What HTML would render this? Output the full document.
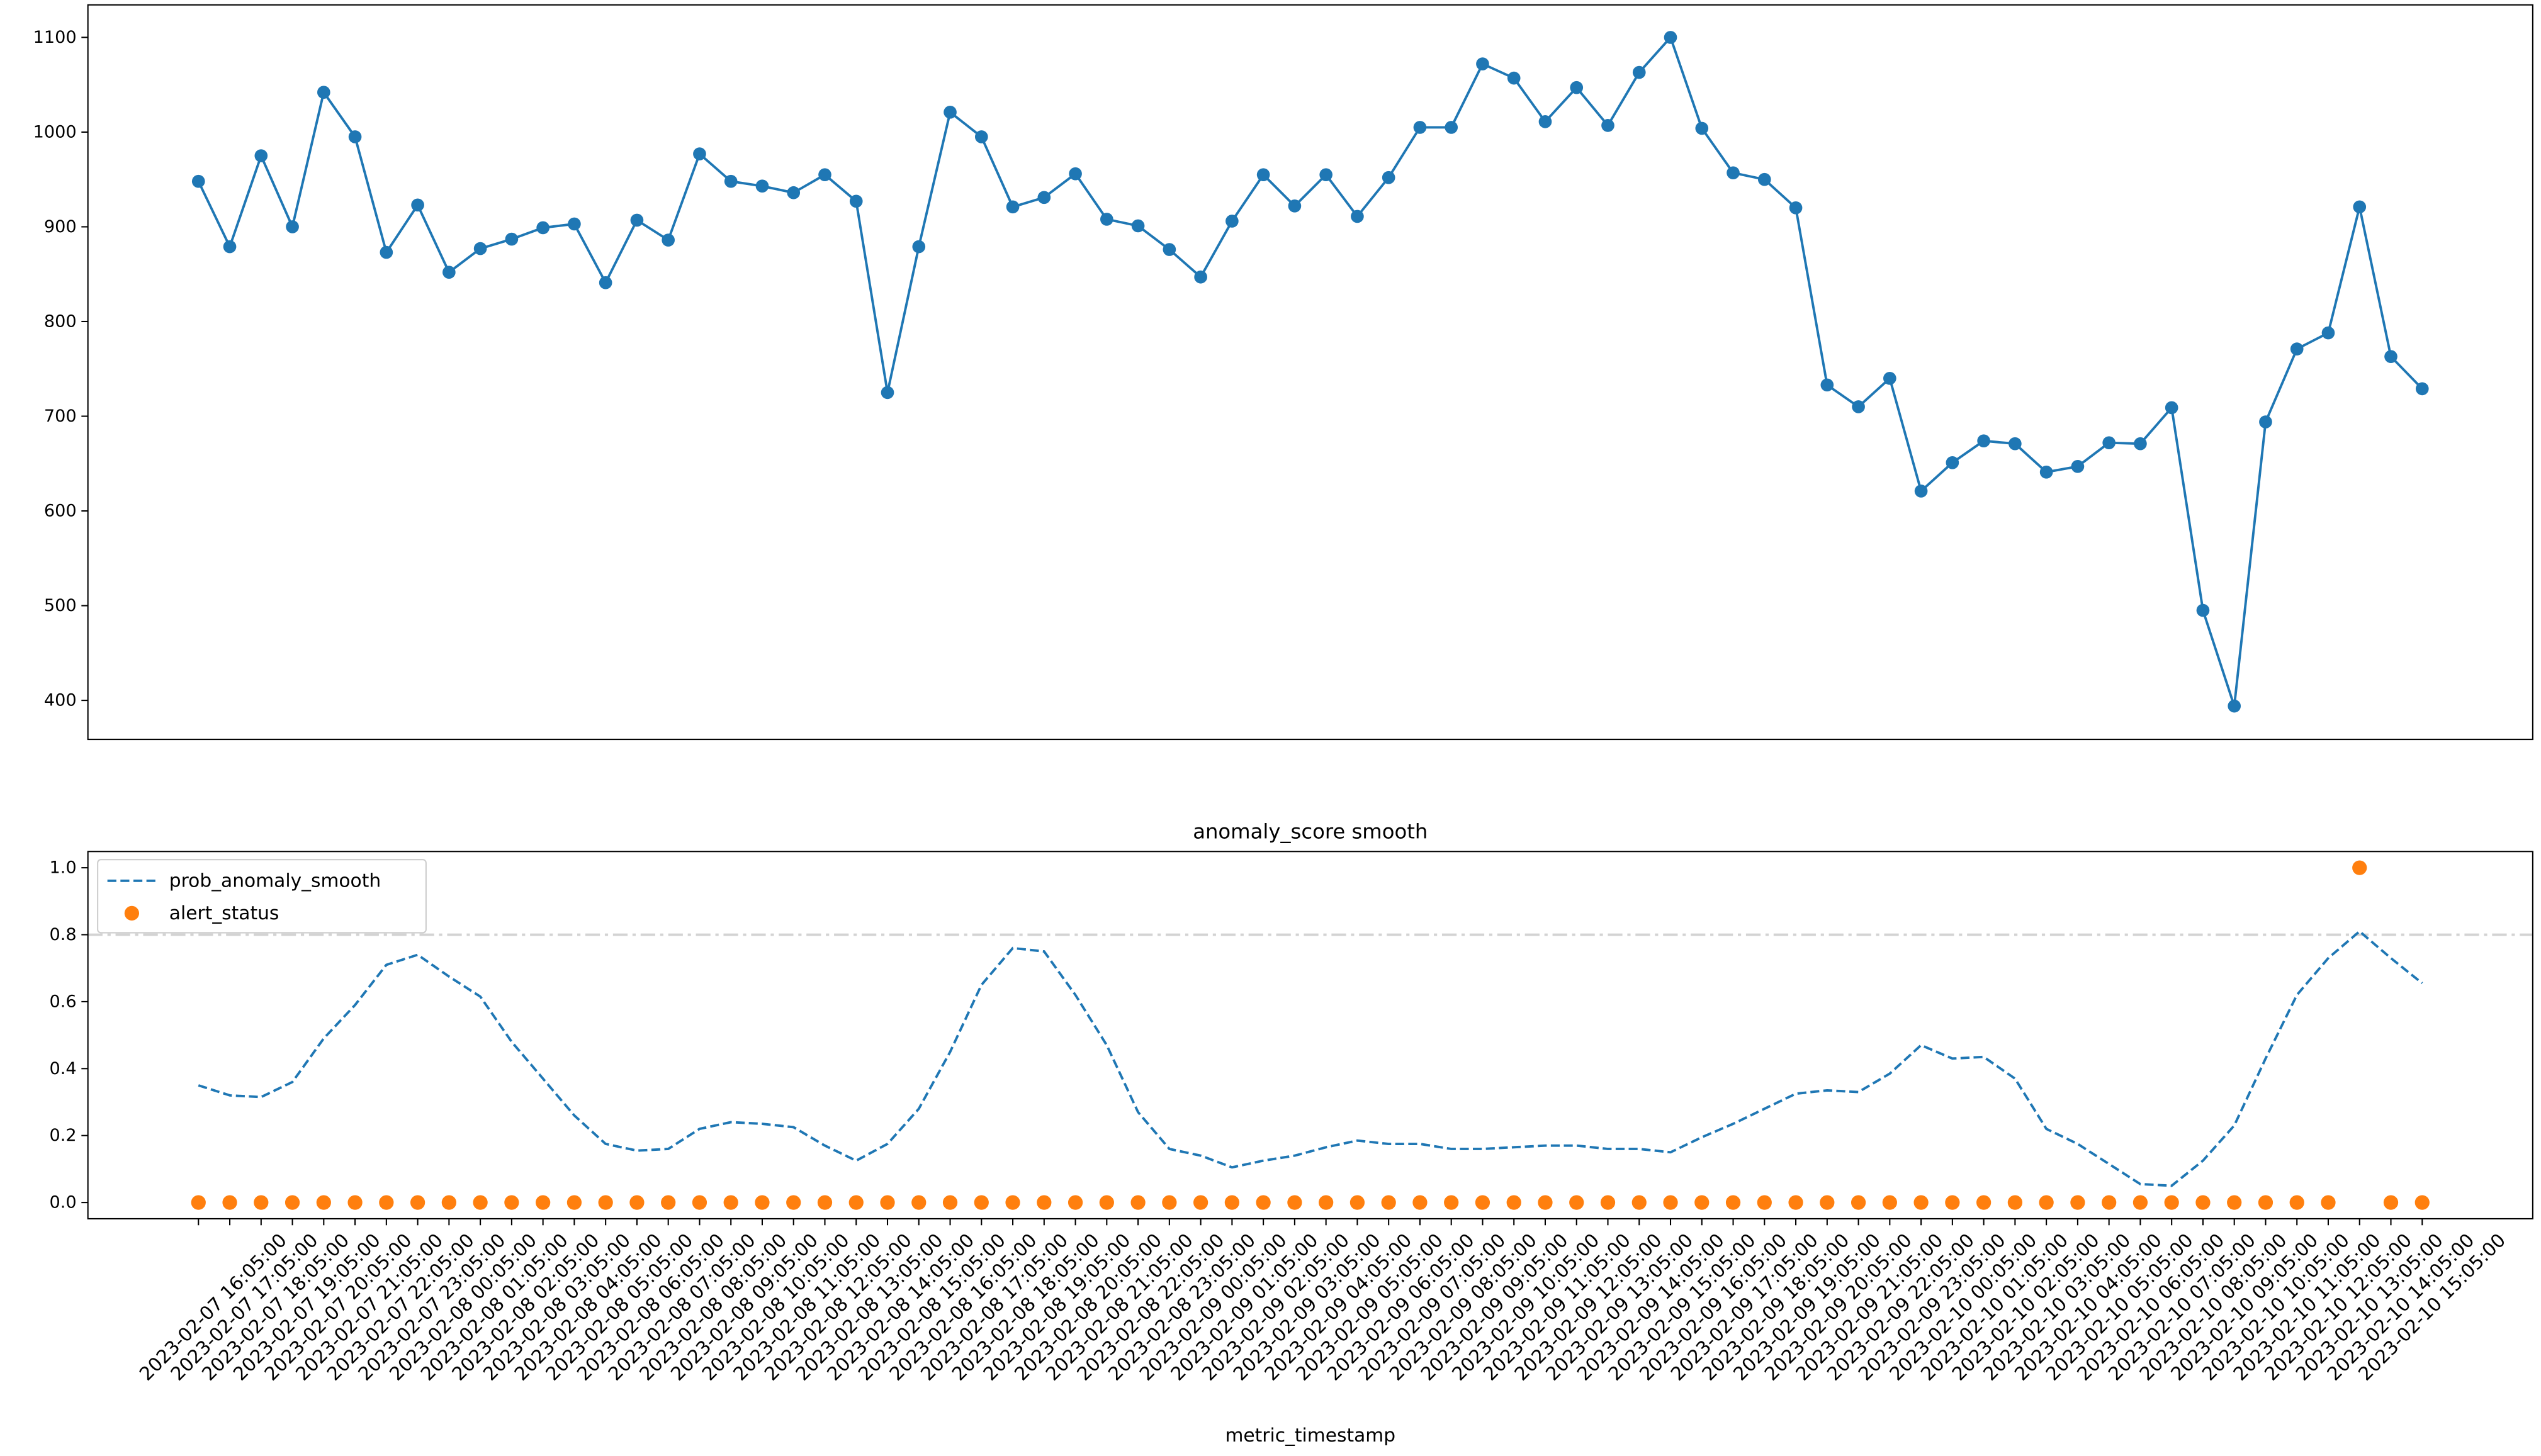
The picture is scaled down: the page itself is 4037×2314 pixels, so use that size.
<!DOCTYPE html>
<html><head><meta charset="utf-8"><style>
html,body{margin:0;padding:0;background:#fff}
svg{display:block}
text{font-family:"DejaVu Sans","Liberation Sans",sans-serif;fill:#000}
</style></head><body>
<svg id="chart" width="4037" height="2314" viewBox="0 0 1563 896" xmlns="http://www.w3.org/2000/svg">
<g id="topPanel"></g>
<g id="botPanel"></g>
</svg>
<script>
const metricValues=[948,879,975,900,1042,995,873,923,852,877,887,899,903,841,907,886,977,948,943,936,955,927,725,879,1021,995,921,931,956,908,901,876,847,906,955,922,955,911,952,1005,1005,1072,1057,1011,1047,1007,1063,1100,1004,957,950,920,733,710,740,621,651,674,671,641,647,672,671,709,495,394,694,771,788,921,763,729];
const smoothValues=[0.35,0.32,0.315,0.36,0.49,0.59,0.71,0.74,0.675,0.615,0.48,0.37,0.26,0.175,0.155,0.16,0.22,0.24,0.235,0.225,0.17,0.125,0.175,0.28,0.45,0.65,0.76,0.75,0.62,0.47,0.27,0.16,0.14,0.105,0.125,0.14,0.165,0.185,0.175,0.175,0.16,0.16,0.165,0.17,0.17,0.16,0.16,0.15,0.195,0.235,0.28,0.325,0.335,0.33,0.385,0.47,0.43,0.435,0.37,0.22,0.175,0.115,0.055,0.05,0.125,0.23,0.43,0.62,0.73,0.81,0.73,0.655];
const alertIndex=[69];
const threshold=0.8;
const topTicks=[400,500,600,700,800,900,1000,1100];
const botTicks=[0.0,0.2,0.4,0.6,0.8,1.0];
const NS="http://www.w3.org/2000/svg";
const n=metricValues.length;
const alertValues=metricValues.map((v,i)=>alertIndex.includes(i)?1:0);
function el(parent,tag,attrs,txt){const e=document.createElementNS(NS,tag);for(const k in attrs)e.setAttribute(k,attrs[k]);if(txt!==undefined)e.textContent=txt;parent.appendChild(e);return e;}
const X0=54,X1=1558;
function x(i){return 122+i*(1490-122)/(n-1);}
function yTop(v){return 23+(1100-v)*(431-23)/700;}
function yBot(v){return 740-v*206;}
const topG=document.getElementById('topPanel'),botG=document.getElementById('botPanel');
let pts=metricValues.map((v,i)=>x(i).toFixed(2)+','+yTop(v).toFixed(2)).join(' ');
let l=el(topG,'polyline',{points:pts,fill:'none',stroke:'#1f77b4','stroke-width':1.5});


metricValues.forEach((v,i)=>{const c=el(topG,'circle',{cx:x(i),cy:yTop(v),r:4,fill:'#1f77b4'});

});
topTicks.forEach(t=>{const y=yTop(t);el(topG,'line',{x1:X0-4,x2:X0,y1:y,y2:y,stroke:'#000','stroke-width':0.8});
const tx=el(topG,'text',{x:X0-7,y:y,'text-anchor':'end','dominant-baseline':'central','font-size':10.5},String(t));

});
const f1=el(topG,'rect',{x:X0,y:3,width:X1-X0,height:452,fill:'none',stroke:'#000','stroke-width':0.8});


const th=el(botG,'line',{x1:X0,x2:X1,y1:yBot(threshold),y2:yBot(threshold),stroke:'#d3d3d3','stroke-width':1.5,'stroke-dasharray':'9,3,2,3'});


pts=smoothValues.map((v,i)=>x(i).toFixed(2)+','+yBot(v).toFixed(2)).join(' ');
l=el(botG,'polyline',{points:pts,fill:'none',stroke:'#1f77b4','stroke-width':1.5,'stroke-dasharray':'5.5,2.5'});


alertValues.forEach((v,i)=>{const c=el(botG,'circle',{cx:x(i),cy:yBot(v),r:4.5,fill:'#ff7f0e'});

});
botTicks.forEach(t=>{const y=yBot(t);el(botG,'line',{x1:X0-4,x2:X0,y1:y,y2:y,stroke:'#000','stroke-width':0.8});
const tx=el(botG,'text',{x:X0-7,y:y,'text-anchor':'end','dominant-baseline':'central','font-size':10.5},t.toFixed(1));

});
const start=Date.UTC(2023,1,7,16,5);
function pad(v){return String(v).padStart(2,'0');}
for(let i=0;i<n;i++){const xx=x(i);el(botG,'line',{x1:xx,x2:xx,y1:750,y2:754,stroke:'#000','stroke-width':0.8});
const d=new Date(start+i*3600000);
const lab=`${d.getUTCFullYear()}-${pad(d.getUTCMonth()+1)}-${pad(d.getUTCDate())} ${pad(d.getUTCHours())}:05:00`;
const ex=171+i*(1536-171)/(n-1);
const tx=el(botG,'text',{x:ex,y:758,'text-anchor':'end','dominant-baseline':'hanging','font-size':11.5,transform:`rotate(-45 ${ex} 758)`},lab);

}
const f2=el(botG,'rect',{x:X0,y:524,width:X1-X0,height:226,fill:'none',stroke:'#000','stroke-width':0.8});


const title=el(botG,'text',{x:806,y:516,'text-anchor':'middle','font-size':12.5},'anomaly_score smooth');


const xl=el(botG,'text',{x:806,y:887,'text-anchor':'middle','font-size':11.5},'metric_timestamp');


const lg=el(botG,'g',{});


el(lg,'rect',{x:60,y:529,width:202,height:45,rx:2,fill:'#fff','fill-opacity':0.8,stroke:'#cccccc','stroke-width':0.8});
el(lg,'line',{x1:66,x2:96,y1:542,y2:542,stroke:'#1f77b4','stroke-width':1.5,'stroke-dasharray':'5.5,2.5'});
const t1=el(lg,'text',{x:104,y:542,'dominant-baseline':'central','font-size':11.5},'prob_anomaly_smooth');


el(lg,'circle',{cx:81,cy:562,r:4.5,fill:'#ff7f0e'});
const t2=el(lg,'text',{x:104,y:562,'dominant-baseline':'central','font-size':11.5},'alert_status');


</script>
</body></html>
